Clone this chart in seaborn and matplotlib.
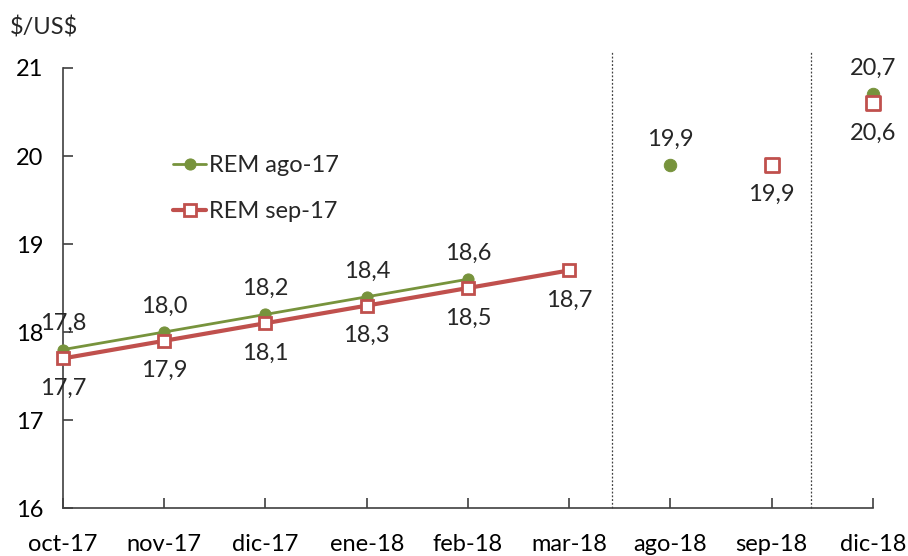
import numpy as np
import pandas as pd
import matplotlib
matplotlib.use("Agg")
import matplotlib.pyplot as plt
import seaborn as sns

# data
months = ["oct-17", "nov-17", "dic-17", "ene-18", "feb-18", "mar-18", "ago-18", "sep-18", "dic-18"]
rem_ago17 = [17.8, 18.0, 18.2, 18.4, 18.6, np.nan, 19.9, np.nan, 20.7]
rem_sep17 = [17.7, 17.9, 18.1, 18.3, 18.5, 18.7, np.nan, 19.9, 20.6]
n_monthly = 6  # first six months are monthly and joined by a line

GREEN = "#77933C"
RED = "#C0504D"
FS = 17

sns.set_style("white", {"xtick.bottom": True, "ytick.left": True})
plt.rcParams["font.family"] = ["Lato", "DejaVu Sans"]

df = pd.DataFrame({"x": np.arange(len(months)), "month": months,
                   "ago": rem_ago17, "sep": rem_sep17})
monthly = df.iloc[:n_monthly]
later = df.iloc[n_monthly:]

fig = plt.figure(figsize=(9.08, 5.56), dpi=100)
ax = fig.add_axes([0.0694, 0.0863, 0.892, 0.7914])

# connected monthly forecasts
sns.lineplot(data=monthly.dropna(subset=["ago"]), x="x", y="ago", ax=ax, color=GREEN,
             linewidth=2, marker="o", markersize=8, markeredgecolor=GREEN,
             label="REM ago-17", zorder=3, clip_on=False)
sns.lineplot(data=monthly.dropna(subset=["sep"]), x="x", y="sep", ax=ax, color=RED,
             linewidth=3, marker="s", markersize=9, markerfacecolor="white",
             markeredgecolor=RED, markeredgewidth=2, label="REM sep-17", zorder=4,
             clip_on=False)

# isolated later forecasts
sns.scatterplot(data=later, x="x", y="ago", ax=ax, color=GREEN, s=80,
                edgecolor=GREEN, zorder=3, legend=False, clip_on=False)
sns.scatterplot(data=later, x="x", y="sep", ax=ax, marker="s", s=90, color="white",
                edgecolor=RED, linewidth=2, zorder=4, legend=False, clip_on=False)

# data labels: green above, red below
for xi, v in zip(df["x"], df["ago"]):
    if not np.isnan(v):
        ax.annotate(f"{v:.1f}".replace(".", ","), (xi, v), xytext=(0, 11),
                    textcoords="offset points", ha="center", va="bottom", fontsize=FS)
for xi, v in zip(df["x"], df["sep"]):
    if not np.isnan(v):
        ax.annotate(f"{v:.1f}".replace(".", ","), (xi, v), xytext=(0, -14),
                    textcoords="offset points", ha="center", va="top", fontsize=FS)

# period separators
for xs in [5.42, 7.39]:
    ax.plot([xs, xs], [16, 21.18], color="#404040", linestyle=(0, (1.5, 1.5)),
            linewidth=0.9, clip_on=False, zorder=1)

ax.set_xlim(0, len(months) - 1)
ax.set_ylim(16, 21)
ax.set_xticks(df["x"])
ax.set_xticklabels(months)
ax.set_yticks([16, 17, 18, 19, 20, 21])
ax.set_xlabel("")
ax.set_ylabel("")
sns.despine(ax=ax)
for side in ["left", "bottom"]:
    ax.spines[side].set_color("#404040")
    ax.spines[side].set_linewidth(1.2)
ax.tick_params(axis="both", direction="in", length=7, width=1.2, color="#404040",
               labelsize=FS, labelcolor="black")
ax.tick_params(axis="x", pad=19)
ax.tick_params(axis="y", pad=14)

leg = ax.legend(loc="upper left", bbox_to_anchor=(0.11, 0.85), frameon=False,
                fontsize=FS, handlelength=1.4, handletextpad=0.1, labelspacing=1.05)

fig.text(0.011, 0.95, r"\$/US\$", fontsize=FS, ha="left", va="center")

fig.savefig("out.png", dpi=100)
